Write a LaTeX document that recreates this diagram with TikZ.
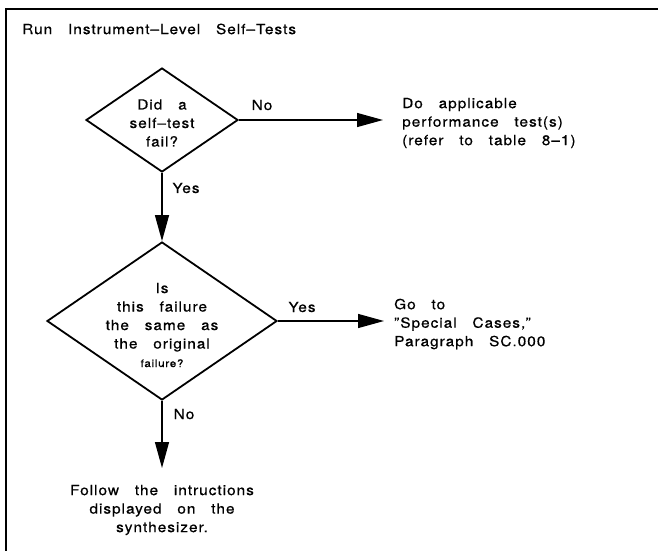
\documentclass[tikz,border=0pt]{standalone}
\usepackage{fontspec}
\setmainfont{TeX Gyre Heros}[FakeStretch=1.1, LetterSpace=7, WordSpace=3, FakeBold=0.6]
\usetikzlibrary{shapes.geometric, arrows.meta}
\begin{document}
\begin{tikzpicture}[x=1pt, y=-1pt,
  every node/.style={inner sep=0pt},
  font=\fontsize{14}{18.5}\selectfont,
  decision/.style={diamond, draw, line width=1.8pt, inner sep=0pt},
  flow/.style={line width=1.3pt, -{Triangle[length=26pt, width=14pt]}},
  ctext/.style={align=center},
  ltext/.style={align=left, anchor=west},
  lbl/.style={}
]
\useasboundingbox (0,0) rectangle (658,551);
% frame
\draw[line width=1.8pt] (6,551) -- (6,9) -- (658,9);
\node[anchor=west] (title) at (22,29) {Run Instrument–Level Self–Tests};

% decisions
\node[decision, minimum width=152pt, minimum height=104pt] (d1) at (162,120) {};
\node[ctext] (d1t) at (162,123) {Did a\\self–test\\fail?};
\node[decision, minimum width=230pt, minimum height=158pt] (d2) at (162,321) {};
\node[ctext] (d2t) at (162,325) {Is\\this failure\\the same as\\the original\\{\fontsize{10.5}{18.5}\selectfont failure?}};

% outcomes
\node[ltext] (do) at (402,123) {Do applicable\\performance test(s)\\(refer to table 8–1)};
\node[ltext] (go) at (394,324) {Go to\\"Special Cases,"\\Paragraph SC.000};
\node[ctext] (fo) at (162,510) {Follow the intructions\\displayed on the\\synthesizer.};

% arrow tips
\coordinate (t1) at (383,120);
\coordinate (t3) at (162,468);
\coordinate (t2) at (384,321);

\draw[flow] (d1.east) -- (t1);
\draw[flow] (d1.south) -- (d2.north);
\draw[flow] (d2.east) -- (t2);
\draw[flow] (d2.south) -- (t3);

% labels
\node[lbl] (no1) at (262,105) {No};
\node[lbl] (yes1) at (186,188) {Yes};
\node[lbl] (yes2) at (302,307) {Yes};
\node[lbl] (no2) at (184,414) {No};
\end{tikzpicture}
\end{document}
